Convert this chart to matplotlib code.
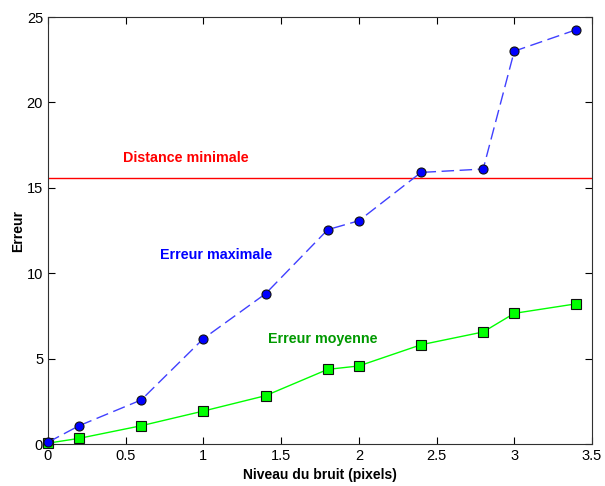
import numpy as np
import matplotlib
matplotlib.use('Agg')
import matplotlib.pyplot as plt

plt.rcParams['font.family'] = ['Liberation Sans', 'DejaVu Sans']

# data
bruit = [0, 0.2, 0.6, 1.0, 1.4, 1.8, 2.0, 2.4, 2.8, 3.0, 3.4]
err_max = [0.1, 1.07, 2.58, 6.17, 8.8, 12.55, 13.07, 15.9, 16.1, 23.0, 24.26]
err_moy = [0.05, 0.33, 1.07, 1.93, 2.83, 4.37, 4.57, 5.81, 6.56, 7.65, 8.21]
dist_min = 15.55

fig = plt.figure(figsize=(6.05, 4.86), dpi=100)
ax = fig.add_axes([0.0793, 0.0864, 0.8992, 0.8786])

ax.plot(bruit, err_max, '--', color='#4040ff', lw=1, dashes=(9, 4),
        marker='o', ms=6.5, mfc='#0000ff', mec='#101010', mew=0.8,
        clip_on=False, zorder=4)
ax.plot(bruit, err_moy, '-', color='#00ff00', lw=1,
        marker='s', ms=6.5, mfc='#00ff00', mec='#101010', mew=0.8,
        clip_on=False, zorder=3)
ax.axhline(dist_min, color='#ff0000', lw=1)

ax.text(0.89, 16.75, 'Distance minimale', color='#ff0000', fontsize=10.3,
        fontweight='bold', ha='center', va='center')
ax.text(1.08, 11.07, 'Erreur maximale', color='#0000ff', fontsize=10.3,
        fontweight='bold', ha='center', va='center')
ax.text(1.77, 6.15, 'Erreur moyenne', color='#009900', fontsize=10.3,
        fontweight='bold', ha='center', va='center')

ax.set_xlim(0, 3.5)
ax.set_ylim(0, 25)
ax.set_xticks([0, 0.5, 1, 1.5, 2, 2.5, 3, 3.5])
ax.set_xticklabels(['0', '0.5', '1', '1.5', '2', '2.5', '3', '3.5'])
ax.set_yticks([0, 5, 10, 15, 20, 25])
ax.tick_params(direction='in', top=True, right=True, labelsize=10.5, length=5)
ax.set_xlabel('Niveau du bruit (pixels)', fontweight='bold', fontsize=10)
ax.set_ylabel('Erreur', fontweight='bold', fontsize=10, labelpad=1)
for s in ax.spines.values():
    s.set_color('#303030')

fig.savefig('out.png', dpi=100)
